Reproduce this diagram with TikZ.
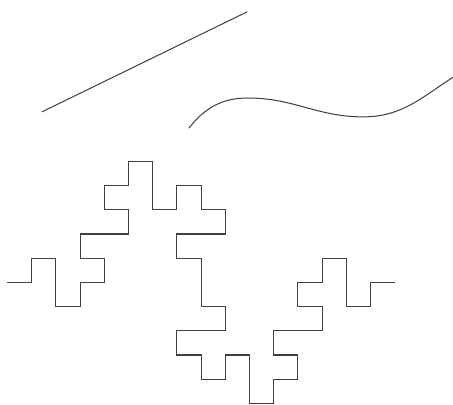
\documentclass[tikz,border=0pt]{standalone}
\usetikzlibrary{lindenmayersystems}

\pgfdeclarelindenmayersystem{QuadKoch}{
  \rule{F -> F+F-F-FF+F+F-F}
}

\begin{document}
\begin{tikzpicture}[
    stroke/.style={line width=1.2pt, color=black!75, line cap=round, line join=miter},
    koch/.style={stroke, lindenmayer system={QuadKoch, axiom=F, order=2,
                 step=1cm, angle=90}}
]
\useasboundingbox (-0.31,-5.06) rectangle (18.41,11.67);

%% ── Straight line ──
\coordinate (L1) at (1.43,7.05);
\coordinate (L2) at (9.90,11.18);
\draw[stroke] (L1) -- (L2);

%% ── Wavy curve ──
\coordinate (C0) at (7.50,6.38);
\coordinate (C1) at (9.94,7.62);
\coordinate (C2) at (14.69,6.84);
\coordinate (C3) at (18.40,8.47);
\draw[stroke] (C0) to[out=52,in=180] (C1) to[out=0,in=180] (C2)
              to[out=0,in=213] (C3);

%% ── Quadratic Koch curve ──
\coordinate (K0) at (0,0);
\draw[koch] (K0) lindenmayer system;

\end{tikzpicture}
\end{document}
